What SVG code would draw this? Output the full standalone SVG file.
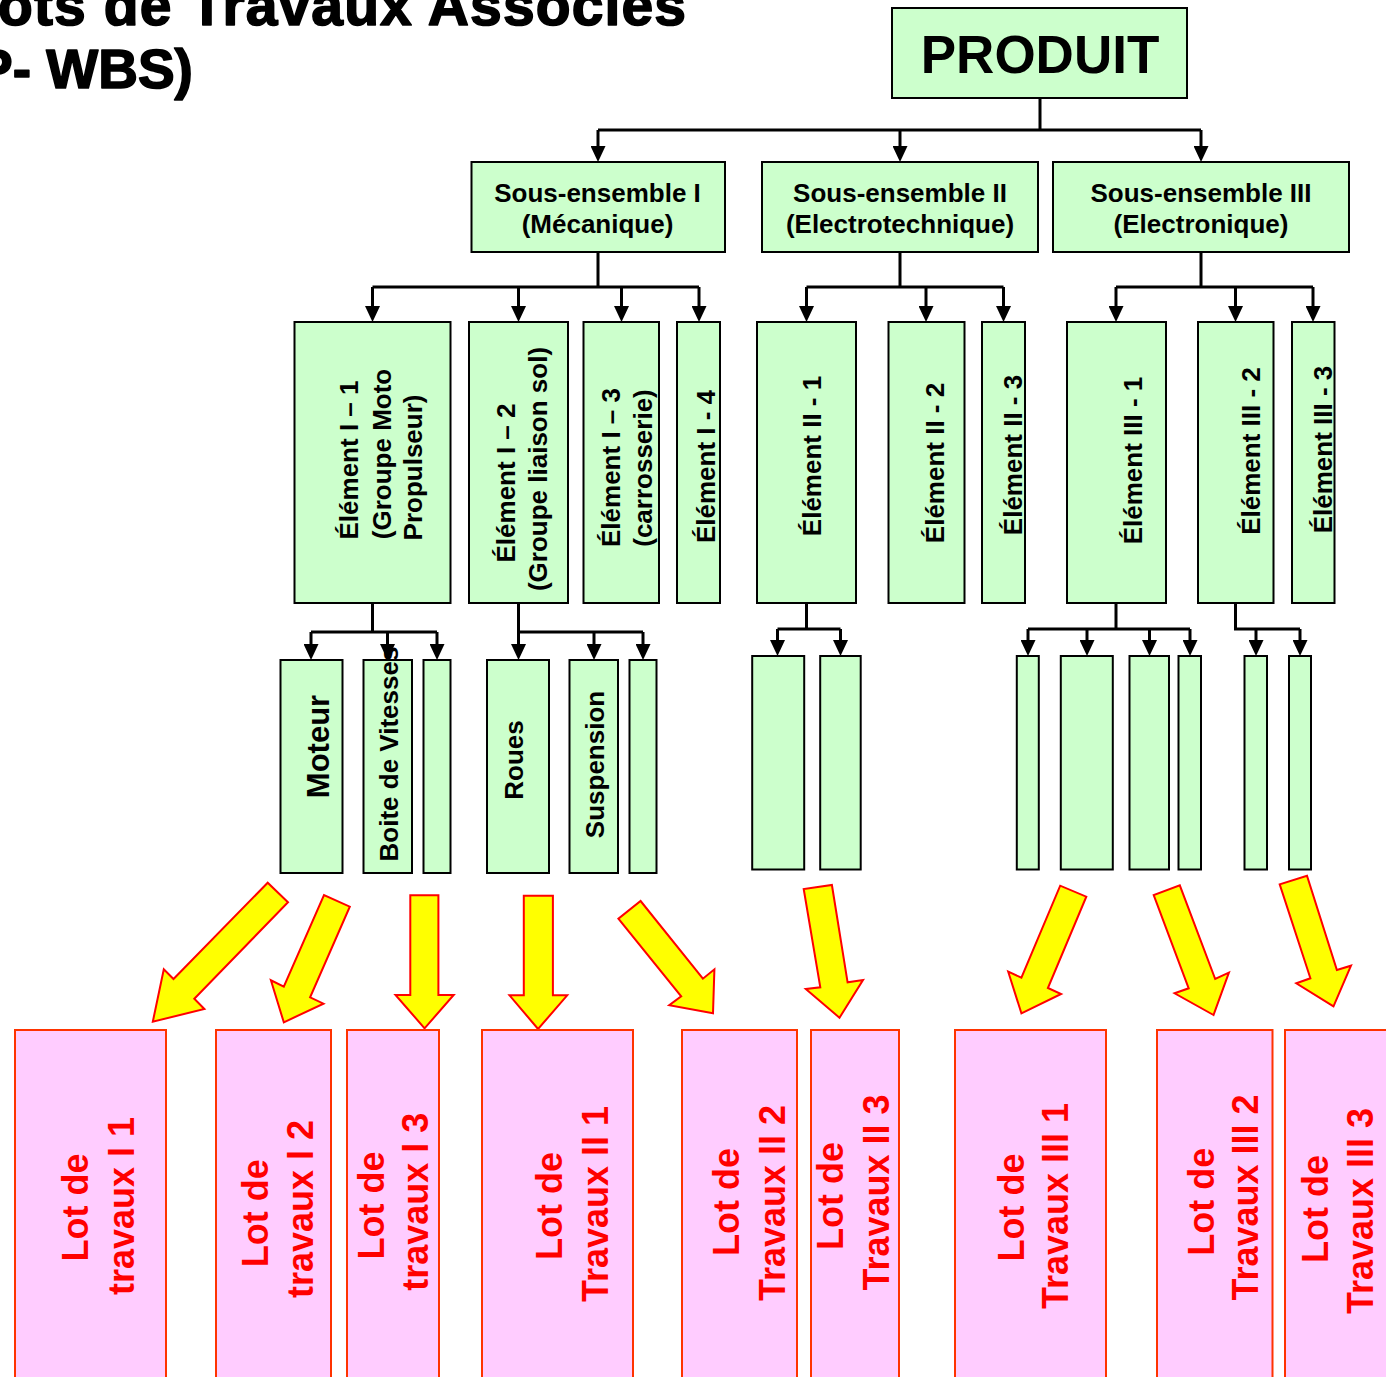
<svg xmlns="http://www.w3.org/2000/svg" width="1386" height="1377" viewBox="0 0 1386 1377">
<style>
.box{fill:#CCFFCC;stroke:#000;stroke-width:2}
.lot{fill:#FFCCFF;stroke:#FF3300;stroke-width:2}
.ln{fill:none;stroke:#000;stroke-width:3}
.br{fill:none;stroke:#000;stroke-width:3;marker-end:url(#ah)}
.ya{fill:#FFFF00;stroke:#FF0000;stroke-width:2;stroke-linejoin:miter}
.t{font-family:"Liberation Sans",Arial,sans-serif;font-weight:bold;fill:#000;text-anchor:middle}
.s26{font-size:26px}
.lt{font-size:36px;fill:#FF0000}
.ttl{font-family:"Liberation Sans",Arial,sans-serif;font-weight:bold;fill:#000;stroke:#000;stroke-width:1.6;stroke-linejoin:round}
</style>
<defs>
<marker id="ah" markerUnits="userSpaceOnUse" markerWidth="16" markerHeight="15" refX="8" refY="7.5" orient="auto" viewBox="0 0 16 15">
<path d="M0,0 L16,7.5 L0,15 Z" fill="#000"/>
</marker>
</defs>
<rect width="1386" height="1377" fill="#FFFFFF"/>

<g id="title">
<text class="ttl" x="-2" y="25" font-size="57" textLength="688" lengthAdjust="spacing">ots de Travaux Associés</text>
<text class="ttl" x="-24" y="88" font-size="55">P- WBS)</text>
</g>

<g id="connectors">
<path class="ln" d="M1040,98 V130 M598,130 H1201"/>
<path class="br" d="M598,130 V154"/>
<path class="br" d="M900,130 V154"/>
<path class="br" d="M1201,130 V154"/>

<path class="ln" d="M598,252 V287 M372.5,287 H699"/>
<path class="br" d="M372.5,287 V314"/>
<path class="br" d="M518.5,287 V314"/>
<path class="br" d="M621.5,287 V314"/>
<path class="br" d="M699,287 V314"/>

<path class="ln" d="M900,252 V287 M806.5,287 H1003.5"/>
<path class="br" d="M806.5,287 V314"/>
<path class="br" d="M926,287 V314"/>
<path class="br" d="M1003.5,287 V314"/>

<path class="ln" d="M1201,252 V287 M1116,287 H1313"/>
<path class="br" d="M1116,287 V314"/>
<path class="br" d="M1235.5,287 V314"/>
<path class="br" d="M1313,287 V314"/>

<path class="ln" d="M372.5,603 V632 M311,632 H437"/>
<path class="br" d="M311,632 V652"/>
<path class="br" d="M387.5,632 V652"/>
<path class="br" d="M437,632 V652"/>

<path class="ln" d="M518.5,603 V632 H643"/>
<path class="br" d="M518.5,632 V652"/>
<path class="br" d="M594,632 V652"/>
<path class="br" d="M643,632 V652"/>

<path class="ln" d="M806.5,603 V629 M777.5,629 H840.5"/>
<path class="br" d="M777.5,629 V648"/>
<path class="br" d="M840.5,629 V648"/>

<path class="ln" d="M1116,603 V629 M1028,629 H1190"/>
<path class="br" d="M1028,629 V648"/>
<path class="br" d="M1087,629 V648"/>
<path class="br" d="M1149.5,629 V648"/>
<path class="br" d="M1190,629 V648"/>

<path class="ln" d="M1235.5,603 V629 H1300"/>
<path class="br" d="M1256,629 V648"/>
<path class="br" d="M1300,629 V648"/>

<g id="lot-arrows">
<polygon class="ya" points="152.8,1021.7 163.8,969.3 173.5,979 267.7,882.7 288,902.3 194.3,998.7 204.4,1009"/>
<polygon class="ya" points="283.8,1022.3 270.9,980.3 283.8,986.7 324,895 349.8,906.7 310.1,997.3 323.5,1003.7"/>
<polygon class="ya" points="424.6,1028.3 395.5,995 410.3,995 410.3,895.3 438.4,895.3 438.4,995 453.7,995"/>
<polygon class="ya" points="538.1,1029 509.5,995.3 523.8,995.3 523.8,895.7 552.9,895.7 552.9,995.3 567.2,995.3"/>
<polygon class="ya" points="713,1013.3 669.2,1005.3 681.2,996.3 618.4,918.7 640.6,901 702.9,978.7 714.4,969.3"/>
<polygon class="ya" points="839.5,1017.7 805.8,989 820.3,987.3 803.7,889 831.9,885 847.6,982.3 863,980"/>
<polygon class="ya" points="1021.4,1013.3 1008.2,971.7 1021.4,977.7 1060.2,885.7 1086.3,896.7 1047.9,988 1061.1,994"/>
<polygon class="ya" points="1213.5,1015 1174.6,993.3 1188.7,988.3 1153.7,895 1179.8,885.3 1215.2,979 1228.9,972.7"/>
<polygon class="ya" points="1333.5,1006.3 1296.3,983.3 1310.4,978.3 1279.7,884.3 1307,875.7 1336.9,970 1351,965.7"/>
</g>
</g>

<g id="produit">
<rect class="box" x="892" y="8" width="295" height="90"/>
<text class="t" x="1040" y="73" font-size="53">PRODUIT</text>
</g>

<g id="se1">
<rect class="box" x="471.5" y="162" width="253.5" height="90"/>
<text class="t s26" x="597.5" y="202">Sous-ensemble I</text>
<text class="t s26" x="597.5" y="233">(Mécanique)</text>
</g>
<g id="se2">
<rect class="box" x="762" y="162" width="276" height="90"/>
<text class="t s26" x="900" y="202">Sous-ensemble II</text>
<text class="t s26" x="900" y="233">(Electrotechnique)</text>
</g>
<g id="se3">
<rect class="box" x="1053" y="162" width="296" height="90"/>
<text class="t s26" x="1201" y="202">Sous-ensemble III</text>
<text class="t s26" x="1201" y="233">(Electronique)</text>
</g>

<g id="el-I-1">
<rect class="box" x="294.5" y="322" width="156" height="281"/>
<text class="t s26" transform="translate(358,460) rotate(-90)">Élément I – 1</text>
<text class="t s26" transform="translate(390.5,454) rotate(-90)">(Groupe Moto</text>
<text class="t s26" transform="translate(422,467.5) rotate(-90)">Propulseur)</text>
</g>
<g id="el-I-2">
<rect class="box" x="469" y="322" width="99" height="281"/>
<text class="t s26" transform="translate(515,483) rotate(-90)">Élément I – 2</text>
<text class="t s26" transform="translate(546.7,469) rotate(-90)">(Groupe liaison sol)</text>
</g>
<g id="el-I-3">
<rect class="box" x="583.5" y="322" width="75.5" height="281"/>
<text class="t s26" transform="translate(620,467.5) rotate(-90)">Élément I – 3</text>
<text class="t s26" transform="translate(651.7,468) rotate(-90)">(carrosserie)</text>
</g>
<g id="el-I-4">
<rect class="box" x="677" y="322" width="43" height="281"/>
<text class="t s26" transform="translate(715,466.5) rotate(-90)">Élément I - 4</text>
</g>
<g id="el-II-1">
<rect class="box" x="757" y="322" width="99" height="281"/>
<text class="t s26" transform="translate(820.7,456) rotate(-90)">Élément II - 1</text>
</g>
<g id="el-II-2">
<rect class="box" x="888.5" y="322" width="76" height="281"/>
<text class="t s26" transform="translate(943.7,463) rotate(-90)">Élément II - 2</text>
</g>
<g id="el-II-3">
<rect class="box" x="982" y="322" width="43" height="281"/>
<text class="t s26" transform="translate(1021.5,455) rotate(-90)">Élément II - 3</text>
</g>
<g id="el-III-1">
<rect class="box" x="1067" y="322" width="99" height="281"/>
<text class="t s26" transform="translate(1141.6,460.5) rotate(-90)">Élément III - 1</text>
</g>
<g id="el-III-2">
<rect class="box" x="1198" y="322" width="75.5" height="281"/>
<text class="t s26" transform="translate(1259.6,451) rotate(-90)">Élément III - 2</text>
</g>
<g id="el-III-3">
<rect class="box" x="1292" y="322" width="42.5" height="281"/>
<text class="t s26" transform="translate(1332,449.5) rotate(-90)">Élément III - 3</text>
</g>

<g id="leaf-moteur">
<rect class="box" x="280.5" y="660" width="62" height="213"/>
<text class="t" font-size="31" transform="translate(329.3,746.5) rotate(-90)">Moteur</text>
</g>
<g id="leaf-boite">
<rect class="box" x="363.5" y="660" width="48.5" height="213"/>
<text class="t s26" transform="translate(397.7,754) rotate(-90)">Boite de Vitesses</text>
</g>
<g id="leaf-I-1-3">
<rect class="box" x="423.5" y="660" width="27" height="213"/>
</g>
<g id="leaf-roues">
<rect class="box" x="487" y="660" width="62" height="213"/>
<text class="t s26" transform="translate(523.3,760) rotate(-90)">Roues</text>
</g>
<g id="leaf-suspension">
<rect class="box" x="569.5" y="660" width="48.5" height="213"/>
<text class="t s26" transform="translate(604.3,764.5) rotate(-90)">Suspension</text>
</g>
<g id="leaf-I-2-3">
<rect class="box" x="629.5" y="660" width="27" height="213"/>
</g>
<g id="leaf-II-1-1"><rect class="box" x="752.2" y="656" width="52" height="213.5"/></g>
<g id="leaf-II-1-2"><rect class="box" x="820.2" y="656" width="40.5" height="213.5"/></g>
<g id="leaf-III-1-1"><rect class="box" x="1016.8" y="656" width="22" height="213.5"/></g>
<g id="leaf-III-1-2"><rect class="box" x="1060.8" y="656" width="52" height="213.5"/></g>
<g id="leaf-III-1-3"><rect class="box" x="1129.5" y="656" width="39.5" height="213.5"/></g>
<g id="leaf-III-1-4"><rect class="box" x="1178.5" y="656" width="22.5" height="213.5"/></g>
<g id="leaf-III-2-1"><rect class="box" x="1244.5" y="656" width="22.5" height="213.5"/></g>
<g id="leaf-III-2-2"><rect class="box" x="1289" y="656" width="22" height="213.5"/></g>

<g id="lot-I-1">
<rect class="lot" x="15" y="1030" width="151" height="360"/>
<text class="t lt" transform="translate(87.5,1207.5) rotate(-90)">Lot de</text>
<text class="t lt" transform="translate(133.7,1206) rotate(-90)">travaux I 1</text>
</g>
<g id="lot-I-2">
<rect class="lot" x="216" y="1030" width="115" height="360"/>
<text class="t lt" transform="translate(268.3,1213.3) rotate(-90)">Lot de</text>
<text class="t lt" transform="translate(312.7,1209) rotate(-90)">travaux I 2</text>
</g>
<g id="lot-I-3">
<rect class="lot" x="347" y="1030" width="92" height="360"/>
<text class="t lt" transform="translate(383.6,1205.5) rotate(-90)">Lot de</text>
<text class="t lt" transform="translate(427.6,1201.7) rotate(-90)">travaux I 3</text>
</g>
<g id="lot-II-1">
<rect class="lot" x="482" y="1030" width="151" height="360"/>
<text class="t lt" transform="translate(562.2,1206) rotate(-90)">Lot de</text>
<text class="t lt" transform="translate(608,1204) rotate(-90)">Travaux II 1</text>
</g>
<g id="lot-II-2">
<rect class="lot" x="682" y="1030" width="115" height="360"/>
<text class="t lt" transform="translate(738.8,1202) rotate(-90)">Lot de</text>
<text class="t lt" transform="translate(785,1203) rotate(-90)">Travaux II 2</text>
</g>
<g id="lot-II-3">
<rect class="lot" x="811" y="1030" width="88" height="360"/>
<text class="t lt" transform="translate(842.9,1196) rotate(-90)">Lot de</text>
<text class="t lt" transform="translate(889,1192.5) rotate(-90)">Travaux II 3</text>
</g>
<g id="lot-III-1">
<rect class="lot" x="955" y="1030" width="151" height="360"/>
<text class="t lt" transform="translate(1024,1207.5) rotate(-90)">Lot de</text>
<text class="t lt" transform="translate(1068.3,1206) rotate(-90)">Travaux III 1</text>
</g>
<g id="lot-III-2">
<rect class="lot" x="1157" y="1030" width="115.5" height="360"/>
<text class="t lt" transform="translate(1214,1201.7) rotate(-90)">Lot de</text>
<text class="t lt" transform="translate(1258.4,1197.5) rotate(-90)">Travaux III 2</text>
</g>
<g id="lot-III-3">
<rect class="lot" x="1285" y="1030" width="120" height="360"/>
<text class="t lt" transform="translate(1328,1209) rotate(-90)">Lot de</text>
<text class="t lt" transform="translate(1372.5,1211) rotate(-90)">Travaux III 3</text>
</g>
</svg>
